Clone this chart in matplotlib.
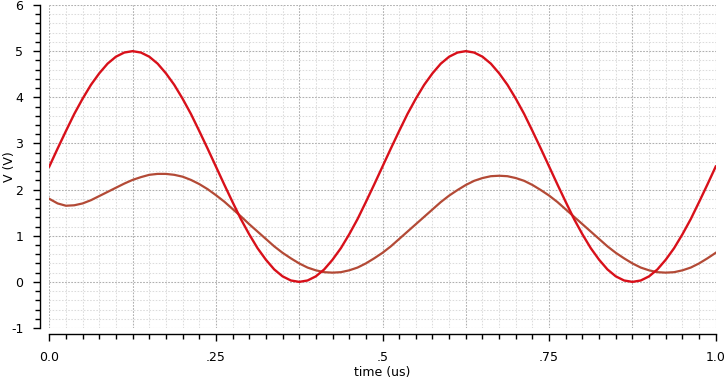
import numpy as np
from matplotlib import ticker, pyplot as plt

# time axis in us, sampled every 0.0125 us
time_us = [round(0.0125 * k, 4) for k in range(81)]

# input sine (red)
v_in = [2.50, 2.89, 3.27, 3.64, 3.97, 4.27, 4.52, 4.73, 4.88, 4.97,
        5.00, 4.97, 4.88, 4.73, 4.52, 4.27, 3.97, 3.64, 3.27, 2.89,
        2.50, 2.11, 1.73, 1.36, 1.03, 0.73, 0.48, 0.27, 0.12, 0.03,
        0.00, 0.03, 0.12, 0.27, 0.48, 0.73, 1.03, 1.36, 1.73, 2.11,
        2.50, 2.89, 3.27, 3.64, 3.97, 4.27, 4.52, 4.73, 4.88, 4.97,
        5.00, 4.97, 4.88, 4.73, 4.52, 4.27, 3.97, 3.64, 3.27, 2.89,
        2.50, 2.11, 1.73, 1.36, 1.03, 0.73, 0.48, 0.27, 0.12, 0.03,
        0.00, 0.03, 0.12, 0.27, 0.48, 0.73, 1.03, 1.36, 1.73, 2.11,
        2.50]

# filtered output (brown)
v_out = [1.80, 1.70, 1.65, 1.66, 1.70, 1.77, 1.86, 1.95, 2.04, 2.13,
         2.21, 2.27, 2.32, 2.34, 2.34, 2.32, 2.28, 2.21, 2.12, 2.01,
         1.88, 1.74, 1.58, 1.42, 1.25, 1.09, 0.93, 0.77, 0.63, 0.51,
         0.40, 0.31, 0.25, 0.21, 0.20, 0.21, 0.25, 0.31, 0.40, 0.51,
         0.63, 0.77, 0.93, 1.09, 1.25, 1.41, 1.57, 1.73, 1.87, 1.99,
         2.10, 2.19, 2.25, 2.29, 2.30, 2.29, 2.25, 2.19, 2.10, 1.99,
         1.87, 1.73, 1.57, 1.41, 1.25, 1.09, 0.93, 0.77, 0.63, 0.51,
         0.40, 0.31, 0.25, 0.21, 0.20, 0.21, 0.25, 0.31, 0.40, 0.51,
         0.63]

x_ticks = [0.0, 0.25, 0.5, 0.75, 1.0]
x_labels = ['0.0', '.25', '.5', '.75', '1.0']
y_ticks = [-1, 0, 1, 2, 3, 4, 5, 6]

plt.rcParams['font.family'] = 'DejaVu Sans'
plt.rcParams['font.size'] = 9
plt.rcParams['axes.unicode_minus'] = False

fig = plt.figure(figsize=(7.27, 3.80), dpi=100)
ax = fig.add_axes([0.0678, 0.1368, 0.9167, 0.85])

ax.set_xlim(0, 1.0)
ax.set_ylim(-1, 6)

# grid: light minor, darker major
for x in np.arange(0, 1.0001, 0.025):
    ax.axvline(x, color='#dcdcdc', lw=0.75, dashes=(1.5, 1.5), zorder=0)
for y in np.arange(-1, 6.0001, 0.2):
    ax.axhline(y, color='#dcdcdc', lw=0.75, dashes=(1.5, 1.5), zorder=0)
for x in np.arange(0, 1.0001, 0.125):
    ax.axvline(x, color='#b0b0b0', lw=0.75, dashes=(1.5, 1.5), zorder=1)
for y in y_ticks:
    ax.axhline(y, color='#b0b0b0', lw=0.75, dashes=(1.5, 1.5), zorder=1)

ax.plot(time_us, v_out, color='#b34a36', lw=1.6, zorder=3)
ax.plot(time_us, v_in, color='#d8101a', lw=1.7, zorder=4)

for s in ['top', 'right']:
    ax.spines[s].set_visible(False)
ax.spines['left'].set_position(('outward', 6.7))
ax.spines['bottom'].set_position(('outward', 4.3))
ax.spines['left'].set_linewidth(1.0)
ax.spines['bottom'].set_linewidth(1.0)

ax.set_xticks(x_ticks)
ax.set_xticklabels(x_labels)
ax.xaxis.set_minor_locator(ticker.MultipleLocator(0.025))
ax.set_yticks(y_ticks)
ax.yaxis.set_minor_locator(ticker.MultipleLocator(0.2))
ax.tick_params(which='major', length=5, width=1.0, pad=7, colors='black')
ax.tick_params(which='minor', length=3.5, width=1.0)

ax.set_xlabel('time (us)')
ax.set_ylabel('V (V)')
ax.xaxis.set_label_coords(0.5, -0.118)
ax.xaxis.label.set_va('top')
ax.yaxis.set_label_coords(-0.05, 0.5)

fig.savefig('out.png', dpi=100)
